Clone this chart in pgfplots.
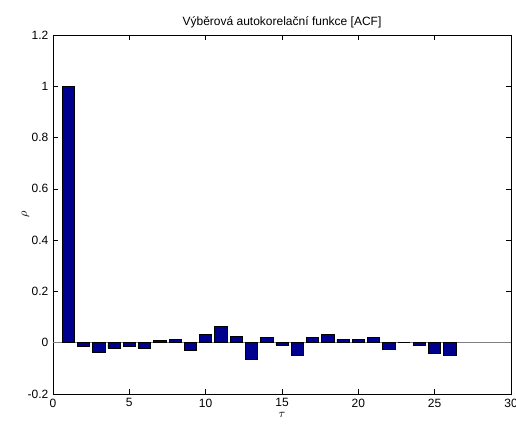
\documentclass[border=0pt]{standalone}
\usepackage{fontspec}
\setmainfont{Liberation Sans}
\usepackage{pgfplots}
\pgfplotsset{compat=1.18}
\definecolor{mbar}{rgb}{0,0,0.5625}
\begin{document}
\begin{tikzpicture}
\begin{axis}[
  scale only axis,
  width=343.5pt, height=269.25pt,
  xmin=0, xmax=30, ymin=-0.2, ymax=1.2,
  xtick={0,5,...,30},
  ytick={-0.2,0,0.2,0.4,0.6,0.8,1,1.2},
  yticklabels={-0.2,0,0.2,0.4,0.6,0.8,1,1.2},
  tick pos=both, tick align=inside,
  major tick length=4pt,
  every tick/.style={black, line width=0.5pt},
  axis line style={line width=0.6pt},
  tick label style={font=\fontsize{9}{10}\selectfont},
  /pgf/number format/assume math mode=true,
  title={Výběrová autokorelační funkce [ACF]},
  title style={font=\fontsize{9}{10}\selectfont, yshift=-4pt},
  xlabel={$\tau$},
  xlabel style={yshift=3pt, font=\small},
  ylabel={$\rho$},
  ylabel style={yshift=-8pt, font=\small},
  clip=true,
]
\addplot[gray, line width=0.8pt] coordinates {(0,0) (30,0)};
\addplot[ybar, bar width=0.8, fill=mbar, draw=black, line width=0.5pt] coordinates {
(1,1.0) (2,-0.013) (3,-0.038) (4,-0.022) (5,-0.013) (6,-0.022) (7,0.009) (8,0.014)
(9,-0.030) (10,0.031) (11,0.064) (12,0.026) (13,-0.064) (14,0.022) (15,-0.009)
(16,-0.051) (17,0.022) (18,0.031) (19,0.013) (20,0.013) (21,0.022) (22,-0.026)
(23,0.0) (24,-0.009) (25,-0.042) (26,-0.051)
};
\end{axis}
\pgfresetboundingbox
\path[use as bounding box] (-39.75pt,-23.25pt) rectangle (347.25pt,295.5pt);
\end{tikzpicture}
\end{document}
